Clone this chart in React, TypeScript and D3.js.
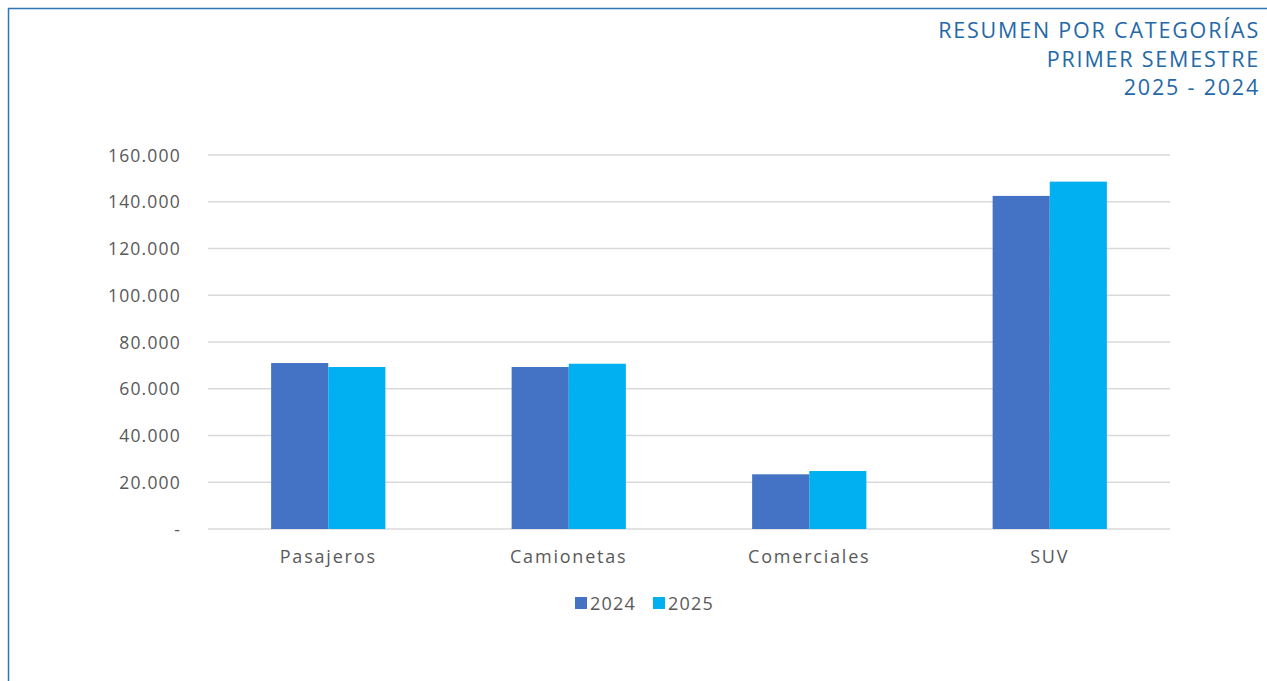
import React from "react";
import * as d3 from "d3";

const categories = ["Pasajeros", "Camionetas", "Comerciales", "SUV"];
const seriesNames = ["2024", "2025"];
const values2024 = [71000, 69300, 23400, 142500];
const values2025 = [69300, 70700, 24800, 148600];
const yTicks = [0, 20000, 40000, 60000, 80000, 100000, 120000, 140000, 160000];
const titleLines = ["RESUMEN POR CATEGORÍAS", "PRIMER SEMESTRE", "2025 - 2024"];

const W = 1267;
const H = 681;
const colors = ["#4472C4", "#00B0F0"];
const font = "'Open Sans', 'DejaVu Sans', sans-serif";

export default function App() {
  const plotLeft = 208;
  const plotRight = 1170;
  const plotTop = 155;
  const plotBottom = 529;

  const x = d3.scaleBand<string>().domain(categories).range([plotLeft, plotRight]).paddingInner(0).paddingOuter(0);
  const y = d3.scaleLinear().domain([0, 160000]).range([plotBottom, plotTop]);
  const groupWidth = x.bandwidth() * 0.475;
  const x1 = d3.scaleBand<string>().domain(seriesNames).range([0, groupWidth]).padding(0);
  const fmt = (v: number) => (v === 0 ? "-" : d3.format(",")(v).replace(/,/g, "."));
  const series = [values2024, values2025];

  return (
    <svg width={W} height={H} style={{ position: "absolute", left: 0, top: 0, background: "#fff" }} fontFamily={font}>
      <line x1={8} y1={8.5} x2={W} y2={8.5} stroke="#2E75B6" strokeWidth={1.5} />
      <line x1={8.5} y1={8} x2={8.5} y2={H} stroke="#2E75B6" strokeWidth={1.5} />

      {titleLines.map((t, i) => (
        <text key={t} x={1260} y={38 + i * 28.7} textAnchor="end" fontSize={21.5} fill="#2468A8" letterSpacing={1.8}>
          {t}
        </text>
      ))}

      {yTicks.map((t) => (
        <g key={t}>
          <line x1={plotLeft} x2={plotRight} y1={y(t)} y2={y(t)} stroke="#D9D9D9" strokeWidth={1.3} />
          <text x={181} y={y(t) + 6.5} textAnchor="end" fontSize={17.5} fill="#595959" letterSpacing={1.2}>
            {fmt(t)}
          </text>
        </g>
      ))}

      {categories.map((c, ci) => {
        const gx = (x(c) as number) + (x.bandwidth() - groupWidth) / 2;
        return (
          <g key={c}>
            {seriesNames.map((s, si) => {
              const v = series[si][ci];
              return (
                <rect
                  key={s}
                  x={gx + (x1(s) as number)}
                  y={y(v)}
                  width={x1.bandwidth()}
                  height={y(0) - y(v)}
                  fill={colors[si]}
                />
              );
            })}
            <text x={(x(c) as number) + x.bandwidth() / 2} y={563} textAnchor="middle" fontSize={18} fill="#595959" letterSpacing={1.8}>
              {c}
            </text>
          </g>
        );
      })}

      {seriesNames.map((s, i) => {
        const lx = 575 + i * 78;
        return (
          <g key={s}>
            <rect x={lx} y={597} width={12} height={12} fill={colors[i]} />
            <text x={lx + 15} y={610} fontSize={18} fill="#595959" letterSpacing={1.2}>
              {s}
            </text>
          </g>
        );
      })}
    </svg>
  );
}
